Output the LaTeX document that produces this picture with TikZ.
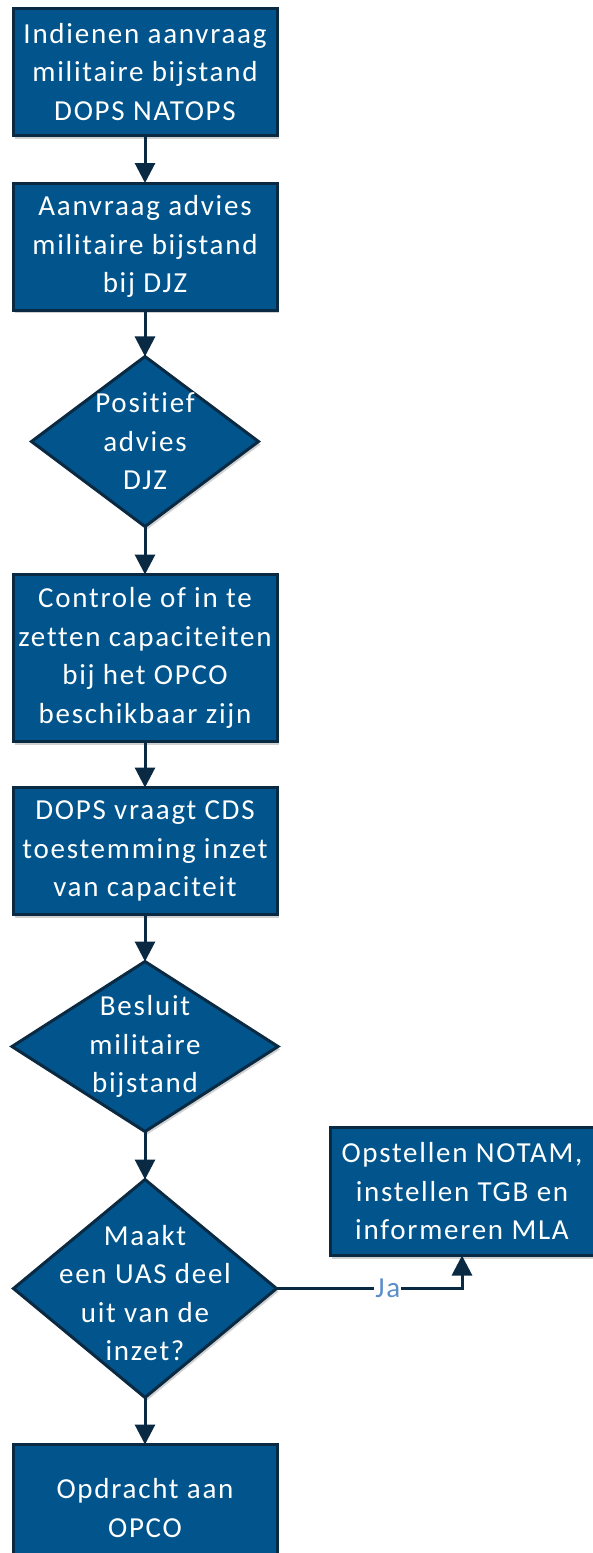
\documentclass[tikz,border=0pt]{standalone}
\usepackage{fontspec}
\setmainfont{Carlito}[LetterSpace=6.0,Ligatures={NoCommon}]
\usetikzlibrary{shapes.geometric,arrows.meta,shadows}
\definecolor{boxblue}{HTML}{01558C}
\definecolor{navy}{HTML}{0A2942}
\definecolor{jablue}{HTML}{5A8FC8}
\begin{document}
\begin{tikzpicture}[x=1pt,y=-1pt,
  base/.style={draw=navy, line width=3pt, fill=boxblue, outer sep=0pt, inner sep=0pt,
    drop shadow={shadow xshift=2pt, shadow yshift=-3pt, opacity=0.18, fill=black}},
  procbox/.style={base, rectangle, minimum width=264pt, minimum height=127pt},
  decision/.style={base, diamond},
  txt/.style={text=white, align=center, font=\fontsize{29}{38.5}\selectfont, inner sep=0pt},
  flow/.style={draw=navy, line width=3pt, -{Triangle[length=20pt,width=20pt]}},
  lbl/.style={text=jablue, fill=white, inner sep=1pt, font=\fontsize{29}{30}\selectfont}
]
\useasboundingbox (0,0) rectangle (592,1553);
\fill[white] (0,0) rectangle (592,1553);

\node[procbox] (b1) at (145,72) {};
\node[txt] (b1t) at (b1.center) {Indienen aanvraag\\militaire bijstand\\DOPS NATOPS};

\node[procbox] (b2) at (145,246.5) {};
\node[txt] (b2t) at (b2.center) {Aanvraag advies\\militaire bijstand\\bij DJZ};

\node[decision, minimum width=227pt, minimum height=170pt] (d1) at (145,441.5) {};
\node[txt] (d1t) at (d1.center) {Positief\\advies\\DJZ};

\node[procbox, minimum height=167pt] (b3) at (145,658) {};
\node[txt] (b3t) at (b3.center) {Controle of in te\\zetten capaciteiten\\bij het OPCO\\beschikbaar zijn};

\node[procbox] (b4) at (145,851) {};
\node[txt] (b4t) at (b4.center) {DOPS vraagt CDS\\toestemming inzet\\van capaciteit};

\node[decision, minimum width=266pt, minimum height=170pt] (d2) at (145,1046.5) {};
\node[txt] (d2t) at (d2.center) {Besluit\\militaire\\bijstand};

\node[decision, minimum width=263pt, minimum height=218pt] (d3) at (145,1288.5) {};
\node[txt] (d3t) at (145,1293) {Maakt\\een UAS deel\\uit van de\\inzet?};

\node[procbox, minimum height=128pt] (b5) at (462,1191.5) {};
\node[txt] (b5t) at (b5.center) {Opstellen NOTAM,\\instellen TGB en\\informeren MLA};

\node[procbox] (b6) at (145,1508) {};
\node[txt] (b6t) at (b6.center) {Opdracht aan\\OPCO};

\draw[flow] (b1) -- (b2);
\draw[flow] (b2) -- (d1);
\draw[flow] (d1) -- (b3);
\draw[flow] (b3) -- (b4);
\draw[flow] (b4) -- (d2);
\draw[flow] (d2) -- (d3);
\draw[flow] (d3) -- (b6);
\draw[flow] (d3.east) -| node[lbl, pos=0.3] (ja) {Ja} (b5.south);
\end{tikzpicture}
\end{document}
